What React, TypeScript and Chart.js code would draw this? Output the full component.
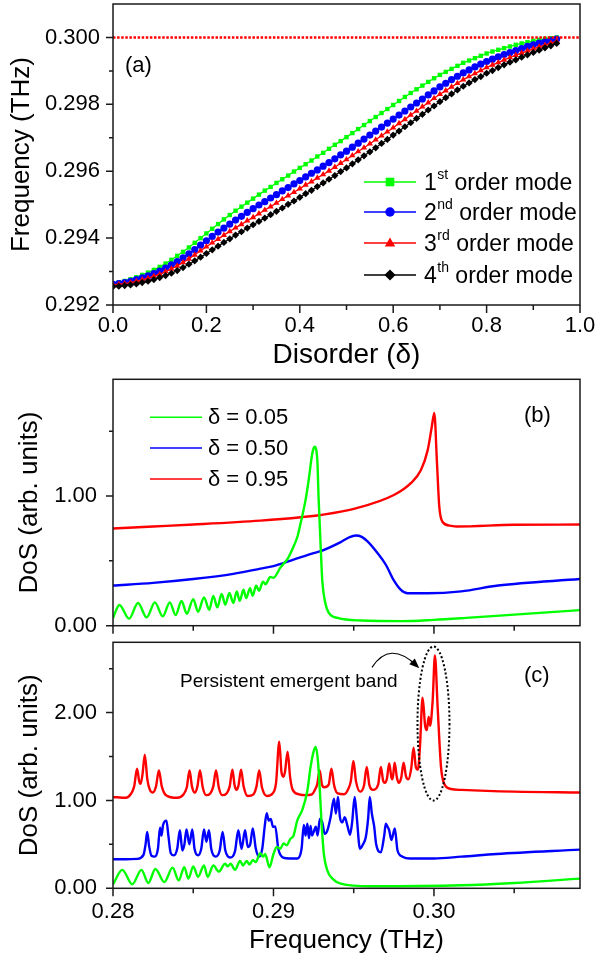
import React, { useEffect, useRef } from 'react';
import { Chart, registerables } from 'chart.js';

Chart.register(...registerables);

const FONT = '"Liberation Sans", Arial, Helvetica, sans-serif';

// ---------------- Panel (a): mode frequency vs disorder ----------------
const disorder = [0, 0.0125, 0.025, 0.0375, 0.05, 0.0625, 0.075, 0.0875, 0.1, 0.1125, 0.125, 0.1375, 0.15, 0.1625, 0.175, 0.1875, 0.2, 0.2125, 0.225, 0.2375, 0.25, 0.2625, 0.275, 0.2875, 0.3, 0.3125, 0.325, 0.3375, 0.35, 0.3625, 0.375, 0.3875, 0.4, 0.4125, 0.425, 0.4375, 0.45, 0.4625, 0.475, 0.4875, 0.5, 0.5125, 0.525, 0.5375, 0.55, 0.5625, 0.575, 0.5875, 0.6, 0.6125, 0.625, 0.6375, 0.65, 0.6625, 0.675, 0.6875, 0.7, 0.7125, 0.725, 0.7375, 0.75, 0.7625, 0.775, 0.7875, 0.8, 0.8125, 0.825, 0.8375, 0.85, 0.8625, 0.875, 0.8875, 0.9, 0.9125, 0.925, 0.9375, 0.95];

const mode1 = [0.29265, 0.29268, 0.29272, 0.29277, 0.29283, 0.29290, 0.29297, 0.29305, 0.29314, 0.29324, 0.29335, 0.29347, 0.29359, 0.29372, 0.29386, 0.29400, 0.29414, 0.29428, 0.29442, 0.29456, 0.29469, 0.29482, 0.29494, 0.29506, 0.29518, 0.29530, 0.29542, 0.29553, 0.29565, 0.29576, 0.29587, 0.29599, 0.29610, 0.29621, 0.29632, 0.29644, 0.29655, 0.29667, 0.29679, 0.29690, 0.29702, 0.29714, 0.29726, 0.29738, 0.29750, 0.29762, 0.29774, 0.29786, 0.29798, 0.29810, 0.29822, 0.29834, 0.29845, 0.29856, 0.29867, 0.29878, 0.29888, 0.29897, 0.29906, 0.29915, 0.29924, 0.29931, 0.29938, 0.29945, 0.29952, 0.29958, 0.29963, 0.29968, 0.29973, 0.29978, 0.29982, 0.29986, 0.29990, 0.29993, 0.29996, 0.29998, 0.30000];

const mode2 = [0.29262, 0.29264, 0.29267, 0.29271, 0.29276, 0.29281, 0.29287, 0.29294, 0.29301, 0.29310, 0.29320, 0.29330, 0.29341, 0.29353, 0.29366, 0.29379, 0.29392, 0.29405, 0.29418, 0.29430, 0.29442, 0.29454, 0.29465, 0.29477, 0.29488, 0.29499, 0.29509, 0.29520, 0.29530, 0.29541, 0.29551, 0.29562, 0.29572, 0.29583, 0.29594, 0.29604, 0.29615, 0.29626, 0.29637, 0.29649, 0.29660, 0.29672, 0.29684, 0.29696, 0.29708, 0.29720, 0.29732, 0.29744, 0.29756, 0.29768, 0.29780, 0.29792, 0.29804, 0.29816, 0.29828, 0.29840, 0.29852, 0.29863, 0.29874, 0.29884, 0.29894, 0.29903, 0.29912, 0.29920, 0.29928, 0.29935, 0.29942, 0.29949, 0.29955, 0.29961, 0.29967, 0.29973, 0.29978, 0.29983, 0.29987, 0.29991, 0.29995];

const mode3 = [0.29260, 0.29262, 0.29264, 0.29267, 0.29271, 0.29275, 0.29280, 0.29286, 0.29292, 0.29300, 0.29308, 0.29317, 0.29327, 0.29338, 0.29350, 0.29362, 0.29374, 0.29386, 0.29397, 0.29409, 0.29420, 0.29431, 0.29441, 0.29452, 0.29462, 0.29473, 0.29484, 0.29494, 0.29505, 0.29516, 0.29527, 0.29537, 0.29548, 0.29559, 0.29569, 0.29580, 0.29590, 0.29601, 0.29612, 0.29624, 0.29635, 0.29647, 0.29659, 0.29670, 0.29682, 0.29694, 0.29706, 0.29718, 0.29730, 0.29743, 0.29755, 0.29768, 0.29780, 0.29793, 0.29805, 0.29818, 0.29830, 0.29841, 0.29852, 0.29863, 0.29874, 0.29883, 0.29892, 0.29901, 0.29910, 0.29918, 0.29925, 0.29933, 0.29940, 0.29947, 0.29953, 0.29960, 0.29966, 0.29972, 0.29977, 0.29983, 0.29988];

const mode4 = [0.29255, 0.29256, 0.29258, 0.29260, 0.29263, 0.29267, 0.29271, 0.29276, 0.29282, 0.29288, 0.29295, 0.29303, 0.29312, 0.29322, 0.29332, 0.29343, 0.29354, 0.29365, 0.29376, 0.29387, 0.29398, 0.29409, 0.29419, 0.29430, 0.29440, 0.29450, 0.29460, 0.29470, 0.29480, 0.29490, 0.29501, 0.29511, 0.29522, 0.29533, 0.29543, 0.29554, 0.29565, 0.29576, 0.29587, 0.29599, 0.29610, 0.29622, 0.29634, 0.29646, 0.29658, 0.29670, 0.29683, 0.29695, 0.29708, 0.29720, 0.29733, 0.29745, 0.29758, 0.29770, 0.29783, 0.29795, 0.29808, 0.29820, 0.29831, 0.29843, 0.29854, 0.29864, 0.29874, 0.29883, 0.29893, 0.29901, 0.29910, 0.29918, 0.29926, 0.29933, 0.29941, 0.29948, 0.29955, 0.29962, 0.29969, 0.29975, 0.29982];

const bandEdge = 0.3;
const aXTicks = [0, 0.2, 0.4, 0.6, 0.8, 1.0];
const aXMinor = [0.1, 0.3, 0.5, 0.7, 0.9];
const aYTicks = [0.292, 0.294, 0.296, 0.298, 0.3];
const aYMinor = [0.293, 0.295, 0.297, 0.299];
const modeOrdinals = ['1', '2', '3', '4'];
const modeSuffix = ['st', 'nd', 'rd', 'th'];
const modeText = ' order mode';
const modeColors = ['#00ff00', '#0000ff', '#ff0000', '#000000'];
const modeMarkers = ['rect', 'circle', 'triangle', 'rectRot'];

// ---------------- Panels (b),(c): DoS vs frequency ----------------
const freqTicks = [0.28, 0.29, 0.3];
const freqMinor = [0.285, 0.295, 0.305];
const bYTicks = [0, 1];
const bYMinor = [0.5, 1.5];
const cYTicks = [0, 1, 2];
const cYMinor = [0.5, 1.5, 2.5];
const deltaLabels = ['δ = 0.05', 'δ = 0.50', 'δ = 0.95'];
const dosColors = ['#00ff00', '#0000ff', '#ff0000'];

// panel (b)
const dosB05: [number, number][] = [[0.2800, 0.06], [0.2804, 0.16], [0.2810, 0.054], [0.28156, 0.175], [0.2821, 0.064], [0.28261, 0.18], [0.2831, 0.072], [0.28354, 0.18], [0.2839, 0.082], [0.28427, 0.19], [0.2846, 0.092], [0.2850, 0.205], [0.2853, 0.108], [0.28567, 0.218], [0.2860, 0.123], [0.28625, 0.23], [0.2865, 0.141], [0.28677, 0.244], [0.2870, 0.162], [0.28725, 0.252], [0.2875, 0.175], [0.28771, 0.264], [0.2879, 0.192], [0.28813, 0.277], [0.2883, 0.213], [0.28854, 0.29], [0.2887, 0.231], [0.28892, 0.308], [0.2891, 0.27], [0.28935, 0.34], [0.2895, 0.32], [0.2898, 0.375], [0.2900, 0.37], [0.29044, 0.45], [0.2909, 0.52], [0.29125, 0.61], [0.2915, 0.69], [0.29169, 0.79], [0.2920, 0.97], [0.29219, 1.12], [0.29242, 1.33], [0.29256, 1.38], [0.29273, 1.28], [0.29281, 0.99], [0.29294, 0.61], [0.29304, 0.35], [0.29319, 0.2], [0.29344, 0.10], [0.2940, 0.06], [0.2955, 0.04], [0.2980, 0.035], [0.3000, 0.045], [0.3020, 0.06], [0.3050, 0.085], [0.3091, 0.12]];

const dosB50: [number, number][] = [[0.2800, 0.31], [0.2825, 0.33], [0.2850, 0.36], [0.2875, 0.40], [0.28919, 0.44], [0.2900, 0.46], [0.29125, 0.51], [0.2925, 0.56], [0.29294, 0.575], [0.29419, 0.645], [0.2947, 0.68], [0.29513, 0.695], [0.2955, 0.685], [0.29586, 0.65], [0.29648, 0.56], [0.2970, 0.47], [0.2975, 0.35], [0.29794, 0.277], [0.29836, 0.25], [0.2996, 0.25], [0.3017, 0.265], [0.3040, 0.31], [0.3091, 0.36]];

const dosB95: [number, number][] = [[0.2800, 0.75], [0.2825, 0.765], [0.2850, 0.78], [0.28919, 0.81], [0.29169, 0.836], [0.29294, 0.854], [0.29513, 0.905], [0.2975, 1.008], [0.29856, 1.10], [0.29919, 1.20], [0.29961, 1.354], [0.29986, 1.53], [0.30002, 1.64], [0.30019, 1.25], [0.30033, 0.92], [0.30054, 0.80], [0.30106, 0.77], [0.30144, 0.765], [0.3050, 0.778], [0.3091, 0.78]];

// panel (c)
const dosC05: [number, number][] = [[0.2800, 0.045], [0.28058, 0.21], [0.2812, 0.045], [0.28177, 0.21], [0.2822, 0.06], [0.28264, 0.22], [0.2832, 0.07], [0.28371, 0.235], [0.2841, 0.09], [0.28444, 0.24], [0.2847, 0.11], [0.285, 0.25], [0.2853, 0.13], [0.28567, 0.26], [0.2859, 0.13], [0.28625, 0.26], [0.2866, 0.19], [0.28698, 0.28], [0.28715, 0.25], [0.28733, 0.28], [0.2876, 0.21], [0.28792, 0.31], [0.2881, 0.26], [0.28833, 0.31], [0.2885, 0.27], [0.28871, 0.32], [0.2889, 0.3], [0.28917, 0.4], [0.28935, 0.36], [0.28948, 0.39], [0.28975, 0.24], [0.29, 0.39], [0.29021, 0.47], [0.29042, 0.45], [0.29063, 0.51], [0.29083, 0.49], [0.29104, 0.56], [0.29125, 0.6], [0.29148, 0.77], [0.29179, 0.89], [0.29211, 1.11], [0.29231, 1.38], [0.29252, 1.57], [0.29264, 1.61], [0.29277, 1.45], [0.29289, 1.11], [0.293, 0.73], [0.29314, 0.39], [0.29336, 0.2], [0.29367, 0.11], [0.29419, 0.053], [0.29606, 0.023], [0.3017, 0.034], [0.305, 0.06], [0.3091, 0.11]];

const dosC50: [number, number][] = [[0.2800, 0.33], [0.2808, 0.33], [0.2815, 0.335], [0.2819, 0.38], [0.28203, 0.5], [0.28213, 0.64], [0.28225, 0.48], [0.2824, 0.37], [0.2826, 0.36], [0.2828, 0.45], [0.28293, 0.69], [0.28302, 0.6], [0.28312, 0.72], [0.28333, 0.77], [0.28345, 0.6], [0.2836, 0.4], [0.2838, 0.375], [0.284, 0.45], [0.28417, 0.66], [0.28432, 0.43], [0.28445, 0.5], [0.28458, 0.67], [0.28476, 0.5], [0.28494, 0.67], [0.28508, 0.45], [0.2853, 0.375], [0.2855, 0.45], [0.28567, 0.67], [0.28582, 0.53], [0.28598, 0.66], [0.28612, 0.45], [0.2864, 0.36], [0.28665, 0.43], [0.28683, 0.64], [0.287, 0.43], [0.2873, 0.35], [0.2876, 0.42], [0.28781, 0.66], [0.28801, 0.45], [0.28823, 0.66], [0.2884, 0.47], [0.28855, 0.5], [0.28871, 0.68], [0.2889, 0.45], [0.2891, 0.36], [0.2893, 0.45], [0.28945, 0.7], [0.28958, 0.855], [0.2897, 0.77], [0.28983, 0.79], [0.28997, 0.7], [0.29011, 0.705], [0.2903, 0.45], [0.2906, 0.35], [0.2910, 0.34], [0.2915, 0.34], [0.29175, 0.45], [0.29189, 0.72], [0.292, 0.6], [0.29211, 0.735], [0.29221, 0.57], [0.29231, 0.71], [0.2924, 0.6], [0.29252, 0.65], [0.29264, 0.7], [0.29275, 0.6], [0.29289, 0.79], [0.29304, 0.75], [0.29319, 0.62], [0.29336, 0.66], [0.29356, 0.81], [0.29377, 1.02], [0.29389, 0.85], [0.29402, 1.04], [0.29414, 0.81], [0.29429, 0.75], [0.29444, 0.81], [0.29461, 0.71], [0.29477, 0.61], [0.2949, 0.75], [0.29506, 1.04], [0.29519, 0.81], [0.29539, 0.45], [0.29558, 0.5], [0.29575, 0.58], [0.2959, 0.8], [0.296, 1.04], [0.29613, 0.85], [0.29627, 0.71], [0.2964, 0.5], [0.29669, 0.41], [0.2969, 0.6], [0.297, 0.735], [0.29711, 0.7], [0.29721, 0.66], [0.29735, 0.55], [0.29756, 0.68], [0.29773, 0.43], [0.29804, 0.36], [0.2985, 0.34], [0.3000, 0.34], [0.3017, 0.36], [0.3039, 0.39], [0.3091, 0.44]];

const dosC95: [number, number][] = [[0.2800, 1.04], [0.2808, 1.03], [0.2811, 1.07], [0.28132, 1.16], [0.2815, 1.36], [0.28163, 1.22], [0.28172, 1.19], [0.28184, 1.3], [0.28198, 1.52], [0.28214, 1.24], [0.2823, 1.12], [0.28248, 1.09], [0.28268, 1.16], [0.28286, 1.34], [0.28304, 1.16], [0.2833, 1.06], [0.284, 1.03], [0.2844, 1.07], [0.2846, 1.15], [0.28477, 1.34], [0.28492, 1.16], [0.2851, 1.09], [0.28526, 1.16], [0.28542, 1.34], [0.28559, 1.15], [0.2858, 1.06], [0.28606, 1.08], [0.28625, 1.16], [0.28642, 1.34], [0.28659, 1.15], [0.2868, 1.06], [0.28708, 1.08], [0.28727, 1.16], [0.28744, 1.35], [0.28758, 1.17], [0.2877, 1.12], [0.28782, 1.17], [0.28798, 1.35], [0.28814, 1.16], [0.2884, 1.05], [0.28875, 1.07], [0.28894, 1.16], [0.28911, 1.34], [0.28928, 1.15], [0.2896, 1.05], [0.28995, 1.08], [0.29016, 1.2], [0.29036, 1.67], [0.2905, 1.32], [0.29062, 1.27], [0.29072, 1.33], [0.29088, 1.556], [0.29104, 1.26], [0.2912, 1.12], [0.2916, 1.07], [0.292, 1.06], [0.2924, 1.07], [0.29258, 1.12], [0.29272, 1.18], [0.29288, 1.34], [0.29302, 1.18], [0.29316, 1.15], [0.29344, 1.18], [0.29361, 1.36], [0.29378, 1.17], [0.294, 1.08], [0.2944, 1.07], [0.29466, 1.13], [0.29482, 1.22], [0.29498, 1.45], [0.29514, 1.22], [0.2954, 1.1], [0.29564, 1.17], [0.29581, 1.38], [0.29597, 1.18], [0.2962, 1.12], [0.29652, 1.18], [0.29669, 1.38], [0.29684, 1.22], [0.29695, 1.2], [0.29707, 1.25], [0.29721, 1.42], [0.29735, 1.26], [0.29742, 1.24], [0.29755, 1.43], [0.29769, 1.26], [0.2978, 1.2], [0.29796, 1.26], [0.29811, 1.43], [0.29825, 1.28], [0.2984, 1.24], [0.29858, 1.36], [0.29873, 1.6], [0.29887, 1.38], [0.299, 1.35], [0.29913, 1.62], [0.29929, 2.17], [0.29945, 1.85], [0.29955, 1.8], [0.29967, 1.95], [0.29976, 1.85], [0.29992, 2.14], [0.30006, 2.65], [0.30023, 2.06], [0.30044, 1.38], [0.30064, 1.19], [0.30106, 1.13], [0.3017, 1.12], [0.305, 1.10], [0.3091, 1.09]];

const bandLabel = 'Persistent emergent band';
const bandCenter = [0.29997, 1.875];

// ---------------- helpers ----------------
const toXY = (pairs: [number, number][]) => pairs.map((p) => ({ x: p[0], y: p[1] }));

function drawMarker(ctx: CanvasRenderingContext2D, style: string, x: number, y: number, r: number, color: string) {
  ctx.fillStyle = color;
  ctx.beginPath();
  if (style === 'rect') {
    ctx.rect(x - r, y - r, 2 * r, 2 * r);
  } else if (style === 'circle') {
    ctx.arc(x, y, r * 1.1, 0, Math.PI * 2);
  } else if (style === 'triangle') {
    ctx.moveTo(x, y - r * 1.3);
    ctx.lineTo(x + r * 1.2, y + r * 0.8);
    ctx.lineTo(x - r * 1.2, y + r * 0.8);
    ctx.closePath();
  } else {
    ctx.moveTo(x, y - r * 1.3);
    ctx.lineTo(x + r * 1.3, y);
    ctx.lineTo(x, y + r * 1.3);
    ctx.lineTo(x - r * 1.3, y);
    ctx.closePath();
  }
  ctx.fill();
}

function framePlugin(cfg: { xMajor: number[]; xMinor: number[]; yMajor: number[]; yMinor: number[]; extra?: (c: any) => void }) {
  return {
    id: 'frameTicks',
    afterDraw(chart: any) {
      const { ctx, chartArea: ca } = chart;
      const xs = chart.scales.x;
      const ys = chart.scales.y;
      ctx.save();
      ctx.strokeStyle = '#1a1a1a';
      ctx.lineWidth = 1.5;
      ctx.setLineDash([]);
      ctx.beginPath();
      const xt = (vals: number[], len: number) => {
        for (const v of vals) {
          const p = xs.getPixelForValue(v);
          if (p < ca.left - 0.5 || p > ca.right + 0.5) continue;
          ctx.moveTo(p, ca.bottom);
          ctx.lineTo(p, ca.bottom + len);
        }
      };
      const yt = (vals: number[], len: number) => {
        for (const v of vals) {
          const p = ys.getPixelForValue(v);
          if (p < ca.top - 0.5 || p > ca.bottom + 0.5) continue;
          ctx.moveTo(ca.left, p);
          ctx.lineTo(ca.left - len, p);
        }
      };
      xt(cfg.xMajor, 8);
      xt(cfg.xMinor, 5);
      yt(cfg.yMajor, 7);
      yt(cfg.yMinor, 4);
      ctx.stroke();
      ctx.strokeRect(ca.left, ca.top, ca.right - ca.left, ca.bottom - ca.top);
      ctx.restore();
      if (cfg.extra) {
        ctx.save();
        cfg.extra(chart);
        ctx.restore();
      }
    },
  };
}

function yAxis(min: number, max: number, ticks: number[], digits: number, title: string, tickPad: number, titlePad: number) {
  return {
    type: 'linear',
    min,
    max,
    grid: { display: false, drawTicks: false },
    border: { display: false },
    afterBuildTicks: (s: any) => {
      s.ticks = ticks.map((v) => ({ value: v }));
    },
    afterFit: (s: any) => {
      s.width = 113;
      s.paddingTop = 0;
      s.paddingBottom = 0;
    },
    ticks: {
      padding: tickPad,
      color: '#000',
      font: { family: FONT, size: 22 },
      autoSkip: false,
      callback: (v: any) => Number(v).toFixed(digits),
    },
    title: { display: true, text: title, color: '#000', font: { family: FONT, size: 26 }, padding: { top: titlePad, bottom: 0 } },
  };
}

function xAxis(min: number, max: number, ticks: number[], digits: number, height: number, showLabels: boolean, title: string, titleSize: number, tickPad: number, titlePadBottom: number) {
  return {
    type: 'linear',
    min,
    max,
    grid: { display: false, drawTicks: false },
    border: { display: false },
    afterBuildTicks: (s: any) => {
      s.ticks = ticks.map((v) => ({ value: v }));
    },
    afterFit: (s: any) => {
      s.height = height;
      s.paddingLeft = 0;
      s.paddingRight = 0;
    },
    ticks: {
      display: showLabels,
      padding: tickPad,
      color: '#000',
      font: { family: FONT, size: 22 },
      autoSkip: false,
      maxRotation: 0,
      minRotation: 0,
      callback: (v: any) => Number(v).toFixed(digits),
    },
    title: { display: !!title, text: title, color: '#000', font: { family: FONT, size: titleSize }, padding: { top: 0, bottom: titlePadBottom } },
  };
}

const commonOpts = {
  responsive: false,
  animation: false,
  devicePixelRatio: 1,
  plugins: { legend: { display: false }, tooltip: { enabled: false } },
};

function configA(): any {
  const modes = [mode1, mode2, mode3, mode4];
  return {
    type: 'line',
    data: {
      datasets: [
        {
          data: [{ x: 0, y: bandEdge }, { x: 1, y: bandEdge }],
          borderColor: '#ff0000',
          borderWidth: 2.5,
          borderDash: [2.5, 1.6],
          pointRadius: 0,
          order: 0,
        },
        ...modes.map((m, i) => ({
          data: disorder.map((d, j) => ({ x: d, y: m[j] })),
          borderColor: modeColors[i],
          backgroundColor: modeColors[i],
          borderWidth: 1.3,
          pointStyle: modeMarkers[i],
          pointRadius: i === 0 ? 3.1 : 3.6,
          pointBorderWidth: 0,
          pointBackgroundColor: modeColors[i],
          order: 4 - i,
        })),
      ],
    },
    options: {
      ...commonOpts,
      layout: { padding: { left: 0, right: 16, top: 3, bottom: 0 } },
      scales: {
        x: xAxis(0, 1, aXTicks, 1, 67, true, 'Disorder (δ)', 28, 8, 0),
        y: yAxis(0.292, 0.301, aYTicks, 3, 'Frequency (THz)', 13, 6),
      },
    },
    plugins: [
      framePlugin({
        xMajor: aXTicks,
        xMinor: aXMinor,
        yMajor: aYTicks,
        yMinor: aYMinor,
        extra: (chart: any) => {
          const ctx: CanvasRenderingContext2D = chart.ctx;
          ctx.fillStyle = '#000';
          ctx.textAlign = 'left';
          ctx.textBaseline = 'alphabetic';
          ctx.font = `22px ${FONT}`;
          ctx.fillText('(a)', 125, 72);
          const rows = [182, 212, 243, 275];
          rows.forEach((ry, i) => {
            ctx.strokeStyle = modeColors[i];
            ctx.lineWidth = 1.3;
            ctx.beginPath();
            ctx.moveTo(364, ry);
            ctx.lineTo(416, ry);
            ctx.stroke();
            drawMarker(ctx, modeMarkers[i], 390, ry, 4.3, modeColors[i]);
            ctx.fillStyle = '#000';
            ctx.font = `23px ${FONT}`;
            let x = 424;
            ctx.fillText(modeOrdinals[i], x, ry + 7.5);
            x += ctx.measureText(modeOrdinals[i]).width;
            ctx.font = `14px ${FONT}`;
            ctx.fillText(modeSuffix[i], x + 0.5, ry - 3.5);
            x += ctx.measureText(modeSuffix[i]).width + 0.5;
            ctx.font = `23px ${FONT}`;
            ctx.fillText(modeText, x, ry + 7.5);
          });
        },
      }),
    ],
  };
}

function dosDatasets(series: [number, number][][]) {
  return series.map((s, i) => ({
    data: toXY(s),
    borderColor: dosColors[i],
    borderWidth: 2.4,
    pointRadius: 0,
    cubicInterpolationMode: 'monotone',
    order: i,
  }));
}

function configB(): any {
  return {
    type: 'line',
    data: { datasets: dosDatasets([dosB05, dosB50, dosB95]) },
    options: {
      ...commonOpts,
      layout: { padding: { left: 0, right: 16, top: 7.3, bottom: 0 } },
      scales: {
        x: xAxis(0.28, 0.3091, freqTicks, 2, 10.3, false, '', 26, 0, 0),
        y: yAxis(0, 1.9, bYTicks, 2, 'DoS (arb. units)', 16, 14),
      },
    },
    plugins: [
      framePlugin({
        xMajor: freqTicks,
        xMinor: freqMinor,
        yMajor: bYTicks,
        yMinor: bYMinor,
        extra: (chart: any) => {
          const ctx: CanvasRenderingContext2D = chart.ctx;
          ctx.fillStyle = '#000';
          ctx.textAlign = 'left';
          ctx.textBaseline = 'alphabetic';
          ctx.font = `22px ${FONT}`;
          ctx.fillText('(b)', 524, 50);
          const rows = [45.3, 76, 107];
          rows.forEach((ry, i) => {
            ctx.strokeStyle = dosColors[i];
            ctx.lineWidth = 1.6;
            ctx.beginPath();
            ctx.moveTo(150, ry);
            ctx.lineTo(202, ry);
            ctx.stroke();
            ctx.fillStyle = '#000';
            ctx.fillText(deltaLabels[i], 208, ry + 7);
          });
        },
      }),
    ],
  };
}

function configC(): any {
  return {
    type: 'line',
    data: { datasets: dosDatasets([dosC05, dosC50, dosC95]) },
    options: {
      ...commonOpts,
      layout: { padding: { left: 0, right: 16, top: 6.3, bottom: 0 } },
      scales: {
        x: xAxis(0.28, 0.3091, freqTicks, 2, 71.7, true, 'Frequency (THz)', 26, 10, 3.4),
        y: yAxis(0, 2.8, cYTicks, 2, 'DoS (arb. units)', 16, 14),
      },
    },
    plugins: [
      framePlugin({
        xMajor: freqTicks,
        xMinor: freqMinor,
        yMajor: cYTicks,
        yMinor: cYMinor,
        extra: (chart: any) => {
          const ctx: CanvasRenderingContext2D = chart.ctx;
          const xs = chart.scales.x;
          const ys = chart.scales.y;
          ctx.fillStyle = '#000';
          ctx.textAlign = 'left';
          ctx.textBaseline = 'alphabetic';
          ctx.font = `22px ${FONT}`;
          ctx.fillText('(c)', 524, 46);
          ctx.font = `19px ${FONT}`;
          ctx.fillText(bandLabel, 180, 51);
          // dotted ellipse around emergent band
          const cx = xs.getPixelForValue(bandCenter[0]);
          const cy = ys.getPixelForValue(bandCenter[1]);
          ctx.strokeStyle = '#000';
          ctx.lineWidth = 2;
          ctx.setLineDash([2, 2.2]);
          ctx.beginPath();
          ctx.ellipse(cx, cy, 16, 77, 0, 0, Math.PI * 2);
          ctx.stroke();
          ctx.setLineDash([]);
          // curved arrow
          const sx = 372, sy = 31.3, qx = 389.8, qy = 4.2, ex = 419.3, ey = 32.3;
          ctx.lineWidth = 1.2;
          ctx.beginPath();
          ctx.moveTo(sx, sy);
          ctx.quadraticCurveTo(qx, qy, ex - 3, ey - 3);
          ctx.stroke();
          const ang = Math.atan2(ey - qy, ex - qx);
          const hl = 10, hw = 4;
          ctx.fillStyle = '#000';
          ctx.beginPath();
          ctx.moveTo(ex, ey);
          ctx.lineTo(ex - hl * Math.cos(ang) + hw * Math.sin(ang), ey - hl * Math.sin(ang) - hw * Math.cos(ang));
          ctx.lineTo(ex - hl * Math.cos(ang) - hw * Math.sin(ang), ey - hl * Math.sin(ang) + hw * Math.cos(ang));
          ctx.closePath();
          ctx.fill();
        },
      }),
    ],
  };
}

export default function App() {
  const refA = useRef<HTMLCanvasElement>(null);
  const refB = useRef<HTMLCanvasElement>(null);
  const refC = useRef<HTMLCanvasElement>(null);

  useEffect(() => {
    const charts = [
      new Chart(refA.current as HTMLCanvasElement, configA()),
      new Chart(refB.current as HTMLCanvasElement, configB()),
      new Chart(refC.current as HTMLCanvasElement, configC()),
    ];
    return () => charts.forEach((c) => c.destroy());
  }, []);

  const cs: React.CSSProperties = { position: 'absolute', left: 0, display: 'block' };
  return (
    <div style={{ position: 'fixed', left: 0, top: 0, width: 596, height: 960, background: '#fff', overflow: 'hidden' }}>
      <canvas ref={refA} width={596} height={372} style={{ ...cs, top: 0, width: 596, height: 372 }} />
      <canvas ref={refB} width={596} height={264} style={{ ...cs, top: 372, width: 596, height: 264 }} />
      <canvas ref={refC} width={596} height={324} style={{ ...cs, top: 636, width: 596, height: 324 }} />
    </div>
  );
}
